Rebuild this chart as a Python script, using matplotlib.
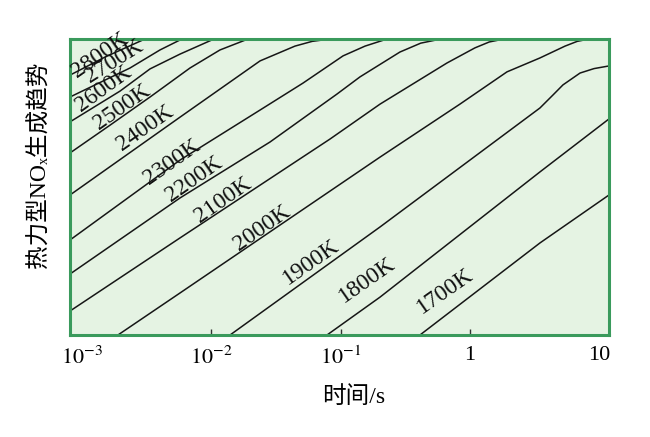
import numpy as np
import matplotlib
matplotlib.use('Agg')
import matplotlib.pyplot as plt
from matplotlib.ticker import NullLocator

plt.rcParams['font.family'] = ['Liberation Serif', 'Noto Sans CJK SC', 'DejaVu Serif']
plt.rcParams['mathtext.fontset'] = 'stix'

# 温度等值线：横轴为 lg(时间/s)，纵轴为相对生成趋势（0~100）
temps = ['2800K', '2700K', '2600K', '2500K', '2400K', '2300K',
         '2200K', '2100K', '2000K', '1900K', '1800K', '1700K']

curve_logt = [
    [-3.093, -2.822, -2.513],
    [-3.093, -2.629, -2.397, -2.227],
    [-3.093, -2.706, -2.474, -2.242, -1.979],
    [-3.093, -2.783, -2.474, -2.165, -1.933, -1.716],
    [-3.093, -2.242, -1.623, -1.353, -1.220, -1.082],
    [-3.093, -2.242, -1.623, -1.291, -0.981, -0.811, -0.641],
    [-3.093, -2.242, -1.546, -1.028, -0.850, -0.541, -0.380, -0.224],
    [-3.093, -2.242, -1.082, -0.695, -0.177, 0.039, 0.150, 0.264],
    [-2.722, -2.242, -0.695, -0.077, 0.287, 0.542, 0.736, 0.830, 0.921],
    [-1.855, -0.695, 0.542, 0.643, 0.720, 0.852, 0.960, 1.076],
    [-1.105, -0.695, 0.542, 1.076],
    [-0.386, 0.542, 1.076],
]
curve_level = [
    [87.8, 93.9, 100.0],
    [80.4, 90.2, 96.3, 100.0],
    [72.0, 82.4, 89.9, 94.9, 100.0],
    [61.5, 70.9, 80.4, 90.2, 96.3, 100.0],
    [47.3, 73.6, 92.6, 97.6, 99.2, 100.0],
    [32.1, 59.1, 76.0, 85.1, 94.3, 97.6, 100.0],
    [20.6, 46.3, 65.2, 81.4, 87.2, 95.6, 98.6, 100.0],
    [8.1, 32.8, 66.2, 78.0, 91.9, 97.0, 99.0, 100.0],
    [0.0, 14.2, 60.1, 78.0, 88.9, 93.6, 97.6, 99.2, 100.0],
    [0.0, 36.5, 76.7, 81.1, 84.5, 88.5, 90.0, 90.9],
    [0.0, 12.8, 55.1, 73.0],
    [0.0, 31.1, 47.3],
]

# 标注文字的位置
label_logt = [-2.861, -2.753, -2.830, -2.691, -2.513, -2.304,
              -2.134, -1.910, -1.608, -1.229, -0.796, -0.193]
label_level = [94.6, 92.6, 83.1, 77.0, 69.9, 58.4,
               52.7, 45.6, 36.1, 24.7, 18.6, 14.9]
label_rot = [35, 32, 36, 35, 35, 35, 35, 35, 35, 35, 35, 35]

xticks = [1e-3, 1e-2, 1e-1, 1, 10]
xticklabels = ['$10^{-3}$', '$10^{-2}$', '$10^{-1}$', '1', '10']

fig = plt.figure(figsize=(6.5, 4.37), dpi=100)
ax = fig.add_axes([70 / 650, 102 / 437, 539 / 650, 296 / 437])
ax.set_facecolor('#e5f3e3')

for lt, lv in zip(curve_logt, curve_level):
    ax.plot(10 ** np.array(lt), lv, color='#161616', lw=1.1)

for s, lt, lv, r in zip(temps, label_logt, label_level, label_rot):
    ax.text(10 ** lt, lv, s, rotation=r, rotation_mode='anchor',
            ha='center', va='center', fontsize=17, color='#111111')

ax.set_xscale('log')
ax.set_xlim(10 ** -3.093, 10 ** 1.076)
ax.set_ylim(0, 100)
ax.set_yticks([])
ax.set_xticks(xticks)
ax.set_xticklabels(xticklabels)
ax.xaxis.set_minor_locator(NullLocator())
ax.tick_params(axis='x', direction='in', length=4.5, width=1,
               color='#333333', labelsize=16, pad=8)
ticks = ax.xaxis.get_major_ticks()
ticks[0].tick1line.set_visible(False)
ticks[-1].tick1line.set_visible(False)

for sp in ax.spines.values():
    sp.set_color('#3a9a5c')
    sp.set_linewidth(2.2)

ax.set_xlabel('时间/s', fontsize=17)
ax.xaxis.set_label_coords(0.527, -0.172)
ax.set_ylabel('热力型NOₓ生成趋势', fontsize=17)
ax.yaxis.set_label_coords(-0.037, 0.574)

fig.savefig('out.png', dpi=100)
